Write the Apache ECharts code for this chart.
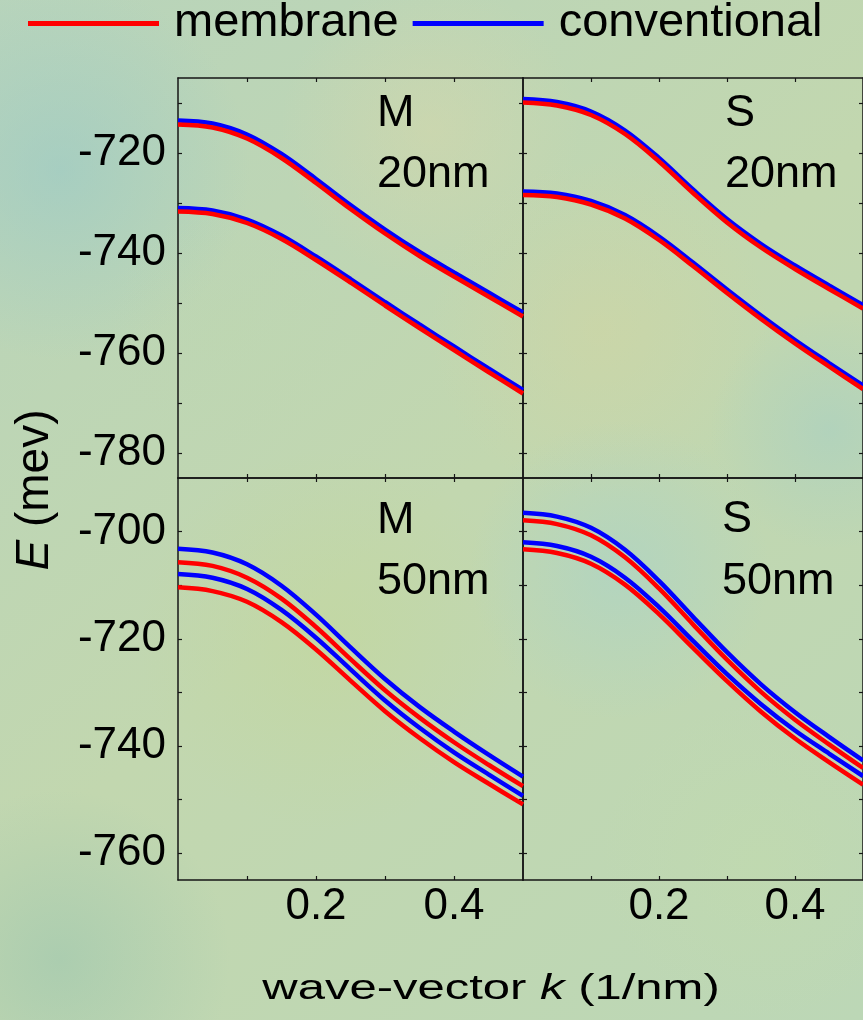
<!DOCTYPE html>
<html>
<head>
<meta charset="utf-8">
<script src="https://cdn.jsdelivr.net/npm/echarts@6/dist/echarts.min.js"></script>
<style>
html,body{margin:0;padding:0;background:#bdd6b4;}
#chart{width:863px;height:1020px;}
</style>
</head>
<body>
<div id="chart"></div>
<script>
// ---------------- data ----------------
const kValues = [0, 0.05, 0.1, 0.15, 0.2, 0.25, 0.3, 0.35, 0.4, 0.45, 0.5];

// Panel "M 20nm"
const m20MembraneUpper      = [-714.3, -714.9, -717.1, -721.0, -726.0, -731.2, -736.1, -740.6, -744.7, -748.7, -752.7];
const m20ConventionalUpper  = [-713.5, -714.1, -716.3, -720.2, -725.2, -730.4, -735.3, -739.8, -743.9, -747.9, -751.9];
const m20MembraneLower      = [-731.7, -732.2, -734.0, -737.2, -741.4, -745.9, -750.5, -755.0, -759.4, -763.8, -768.1];
const m20ConventionalLower  = [-731.0, -731.5, -733.3, -736.5, -740.7, -745.2, -749.8, -754.3, -758.7, -763.1, -767.4];

// Panel "S 20nm"
const s20MembraneUpper      = [-709.9, -710.5, -712.4, -716.2, -721.7, -728.0, -733.9, -738.9, -743.2, -747.2, -751.1];
const s20ConventionalUpper  = [-709.2, -709.8, -711.7, -715.5, -721.0, -727.3, -733.2, -738.2, -742.5, -746.5, -750.4];
const s20MembraneLower      = [-728.4, -728.8, -730.3, -733.1, -737.4, -742.6, -748.0, -753.2, -758.1, -762.7, -767.2];
const s20ConventionalLower  = [-727.7, -728.1, -729.6, -732.4, -736.7, -741.9, -747.3, -752.5, -757.4, -762.0, -766.5];

// Panel "M 50nm"
const m50ConventionalUpper  = [-703.2, -703.9, -706.1, -710.1, -715.5, -721.6, -727.5, -732.7, -737.3, -741.6, -745.7];
const m50MembraneUpper      = [-705.7, -706.4, -708.6, -712.5, -717.8, -723.8, -729.6, -734.7, -739.3, -743.5, -747.5];
const m50ConventionalLower  = [-707.9, -708.6, -710.7, -714.6, -719.8, -725.7, -731.5, -736.6, -741.2, -745.3, -749.3];
const m50MembraneLower      = [-710.4, -711.1, -713.1, -716.9, -722.0, -727.8, -733.5, -738.5, -743.0, -747.0, -750.9];

// Panel "S 50nm"
const s50ConventionalUpper  = [-696.5, -697.2, -699.3, -703.4, -709.2, -715.9, -722.5, -728.5, -733.7, -738.3, -742.7];
const s50MembraneUpper      = [-697.9, -698.6, -700.7, -704.8, -710.6, -717.3, -723.9, -729.9, -735.1, -739.7, -744.1];
const s50ConventionalLower  = [-702.0, -702.7, -704.7, -708.6, -714.1, -720.4, -726.6, -732.2, -737.1, -741.4, -745.6];
const s50MembraneLower      = [-703.3, -704.0, -706.0, -709.9, -715.4, -721.7, -727.9, -733.6, -738.6, -743.0, -747.2];

// axes / ticks
const xRange = [0, 0.5];
const xTickValues = [0.1, 0.2, 0.3, 0.4];
const xLabelValues = [0.2, 0.4];
const topYRange = [-785, -705];
const topYTicks = [-780, -770, -760, -750, -740, -730, -720, -710];
const topYLabels = [-780, -760, -740, -720];
const bottomYRange = [-765, -690];
const bottomYTicks = [-760, -750, -740, -730, -720, -710, -700];
const bottomYLabels = [-760, -740, -720, -700];

const seriesNames = ['membrane', 'conventional'];
const panelLabels = [['M', '20nm'], ['S', '20nm'], ['M', '50nm'], ['S', '50nm']];

// ---------------- styling ----------------
const FONT = 'Liberation Sans, Arial, sans-serif';
const RED = '#ff0000';
const BLUE = '#0000ff';
const AXIS_COLOR = '#161616';

const grids = [
  { left: 178, top: 78, width: 345, height: 400 },
  { left: 523, top: 78, width: 347, height: 400 },
  { left: 178, top: 478, width: 345, height: 402 },
  { left: 523, top: 478, width: 347, height: 402 }
];

function xAxesFor(gi, showLabels) {
  const base = {
    type: 'value', gridIndex: gi, min: xRange[0], max: xRange[1],
    axisLine: { show: true, onZero: false, lineStyle: { color: AXIS_COLOR, width: 1.5 } },
    axisTick: { show: true, inside: true, length: 4, customValues: xTickValues, lineStyle: { color: AXIS_COLOR, width: 1.2 } },
    splitLine: { show: false }
  };
  return [
    Object.assign({}, base, {
      position: 'bottom',
      axisLabel: { show: showLabels, customValues: xLabelValues, formatter: v => v.toFixed(1),
        fontFamily: FONT, fontSize: 44, color: '#000', margin: 5 }
    }),
    Object.assign({}, base, { position: 'top', axisLabel: { show: false } })
  ];
}
function yAxesFor(gi, range, ticks, labels, showLabels) {
  const base = {
    type: 'value', gridIndex: gi, min: range[0], max: range[1],
    axisLine: { show: true, onZero: false, lineStyle: { color: AXIS_COLOR, width: 1.5 } },
    axisTick: { show: true, inside: true, length: 4, customValues: ticks, lineStyle: { color: AXIS_COLOR, width: 1.2 } },
    splitLine: { show: false }
  };
  return [
    Object.assign({}, base, {
      position: 'left',
      axisLabel: { show: showLabels, customValues: labels, fontFamily: FONT, fontSize: 44, color: '#000', margin: 12 }
    }),
    Object.assign({}, base, { position: 'right', axisLabel: { show: false } })
  ];
}

const xAxis = [].concat(xAxesFor(0, false), xAxesFor(1, false), xAxesFor(2, true), xAxesFor(3, true));
const yAxis = [].concat(
  yAxesFor(0, topYRange, topYTicks, topYLabels, true),
  yAxesFor(1, topYRange, topYTicks, topYLabels, false),
  yAxesFor(2, bottomYRange, bottomYTicks, bottomYLabels, true),
  yAxesFor(3, bottomYRange, bottomYTicks, bottomYLabels, false)
);

function line(name, gi, values) {
  const isMem = name === seriesNames[0];
  return {
    name: name, type: 'line', xAxisIndex: gi * 2, yAxisIndex: gi * 2,
    data: kValues.map((k, i) => [k, values[i]]),
    smooth: 0.35, showSymbol: false, symbol: 'none', clip: true,
    z: isMem ? 4 : 3,
    lineStyle: { color: isMem ? RED : BLUE, width: 4.5 },
    itemStyle: { color: isMem ? RED : BLUE },
    emphasis: { disabled: true }, animation: false
  };
}

const series = [
  line('conventional', 0, m20ConventionalUpper), line('membrane', 0, m20MembraneUpper),
  line('conventional', 0, m20ConventionalLower), line('membrane', 0, m20MembraneLower),
  line('conventional', 1, s20ConventionalUpper), line('membrane', 1, s20MembraneUpper),
  line('conventional', 1, s20ConventionalLower), line('membrane', 1, s20MembraneLower),
  line('conventional', 2, m50ConventionalUpper), line('membrane', 2, m50MembraneUpper),
  line('conventional', 2, m50ConventionalLower), line('membrane', 2, m50MembraneLower),
  line('conventional', 3, s50ConventionalUpper), line('membrane', 3, s50MembraneUpper),
  line('conventional', 3, s50ConventionalLower), line('membrane', 3, s50MembraneLower)
];

// background blobs (texture approximation)
function blob(cx, cy, r, rgb, a) {
  return {
    type: 'circle', z: -10, silent: true, shape: { cx: cx, cy: cy, r: r },
    style: { fill: new echarts.graphic.RadialGradient(0.5, 0.5, 0.5, [
      { offset: 0, color: 'rgba(' + rgb + ',' + a + ')' },
      { offset: 1, color: 'rgba(' + rgb + ',0)' }
    ]) }
  };
}

const panelTextPos = [
  { x: 377, y1: 114, y2: 175 },
  { x: 725, y1: 114, y2: 175 },
  { x: 377, y1: 521, y2: 582 },
  { x: 722, y1: 520, y2: 582 }
];
const panelTexts = [];
panelLabels.forEach((pl, i) => {
  const p = panelTextPos[i];
  panelTexts.push({ type: 'text', z: 10, x: p.x, y: p.y1, style: { text: pl[0], fontFamily: FONT, fontSize: 45, fill: '#000', align: 'left', verticalAlign: 'middle' } });
  panelTexts.push({ type: 'text', z: 10, x: p.x, y: p.y2, style: { text: pl[1], fontFamily: FONT, fontSize: 45, fill: '#000', align: 'left', verticalAlign: 'middle' } });
});

const chart = echarts.init(document.getElementById('chart'), null, { renderer: 'canvas' });
chart.setOption({
  animation: false,
  backgroundColor: new echarts.graphic.LinearGradient(0, 0, 1, 1, [
    { offset: 0, color: '#b8d4bb' },
    { offset: 0.5, color: '#c2d7af' },
    { offset: 1, color: '#bcd7b6' }
  ]),
  legend: {
    data: seriesNames, left: 28, top: 0, padding: 0, itemGap: 14,
    icon: 'rect', itemWidth: 131, itemHeight: 5,
    selectedMode: false,
    textStyle: { fontFamily: FONT, fontSize: 47, color: '#000', lineHeight: 47, padding: [0, 0, 0, 10] }
  },
  grid: grids,
  xAxis: xAxis,
  yAxis: yAxis,
  series: series,
  graphic: [
    blob(60, 170, 190, '150,200,200', 0.55),
    blob(430, 130, 150, '215,215,170', 0.5),
    blob(600, 330, 170, '212,212,160', 0.45),
    blob(330, 640, 190, '195,215,150', 0.45),
    blob(620, 570, 150, '165,210,205', 0.5),
    blob(830, 430, 120, '160,205,200', 0.45),
    blob(60, 960, 170, '150,195,175', 0.5),
    blob(760, 860, 160, '195,220,170', 0.4),
    blob(230, 330, 120, '190,215,175', 0.4)
  ].concat(panelTexts, [
    { type: 'text', z: 10, x: 35, y: 490, rotation: Math.PI / 2,
      style: { text: '{i|E} (mev)', fontFamily: FONT, fontSize: 46, fill: '#000', align: 'center', verticalAlign: 'middle',
        rich: { i: { fontFamily: FONT, fontSize: 46, fontStyle: 'italic', fill: '#000' } } } },
    { type: 'text', z: 10, x: 491, y: 989, scaleX: 1.4,
      style: { text: 'wave-vector {i|k} (1/nm)', fontFamily: FONT, fontSize: 35, fill: '#000', align: 'center', verticalAlign: 'middle',
        rich: { i: { fontFamily: FONT, fontSize: 35, fontStyle: 'italic', fill: '#000' } } } }
  ])
});
</script>
</body>
</html>
